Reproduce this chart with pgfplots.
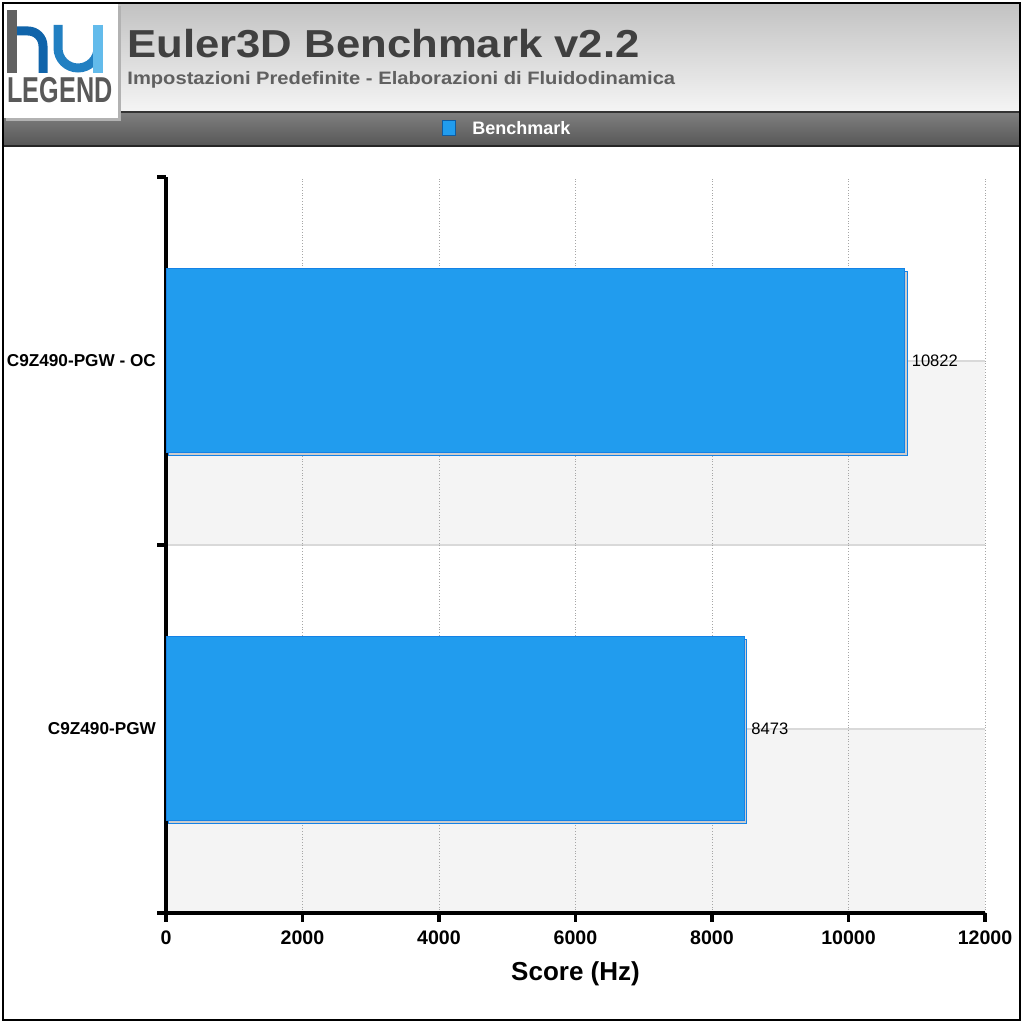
\documentclass[border=0pt]{standalone}
\usepackage{pgfplots}
\pgfplotsset{compat=1.18}
\usepackage{fontspec}
\setmainfont{Liberation Sans}
\definecolor{barblue}{RGB}{33,156,238}
\definecolor{baredge}{RGB}{20,130,230}
\definecolor{stripe}{RGB}{244,244,244}
\definecolor{titlegray}{RGB}{64,64,64}
\definecolor{subgray}{RGB}{96,96,96}
\definecolor{logoblue}{RGB}{16,100,170}
\definecolor{logolight}{RGB}{60,170,230}

\pgfplotstableread{
y  score
0  8473
1  10822
}\scores

\begin{document}
\begin{tikzpicture}
\path (0,0) rectangle (512pt,512pt);
\begin{scope}[x=0.5pt, y=-0.5pt, shift={(0,512pt)}]
  % header
  \shade[top color=black!24, bottom color=black!4] (3,3) rectangle (1020,112);
  \shade[top color=black!50, bottom color=black!66] (3,112) rectangle (1020,146);
  \draw[black!80, line width=1pt] (3,112) -- (1020,112);
  \draw[black!85, line width=1pt] (3,146) -- (1020,146);
  % logo
  \fill[black!30] (6,6) rectangle (121,121);
  \fill[white] (3,3) rectangle (118,118);
  \fill[black!62] (7,10) rectangle (17,73);
  \draw[logoblue, line width=4.5pt] (17,31) -- (28,31) arc[start angle=270, end angle=360, radius=15] -- (43,73);
  \draw[logoblue!60!logolight, line width=4.5pt] (58,25) -- (58,48) arc[start angle=180, end angle=0, radius=20];
  \draw[logolight!80, line width=5pt] (98,25) -- (98,73);
  \node[anchor=base west, inner sep=0pt, text=black!65, font=\bfseries\fontsize{18}{18}\selectfont]
    at (7,103) {\scalebox{0.7}[1]{LEGEND}};
  % titles
  \node[anchor=base west, inner sep=0pt, text=titlegray, font=\bfseries\fontsize{19.5}{22}\selectfont]
    at (127,58) {\scalebox{1.12}[1]{Euler3D Benchmark v2.2}};
  \node[anchor=base west, inner sep=0pt, text=subgray, font=\bfseries\fontsize{9}{11}\selectfont]
    at (127,85) {\scalebox{1.12}[1]{Impostazioni Predefinite - Elaborazioni di Fluidodinamica}};
  % legend
  \fill[barblue] (442,120) rectangle (455,135);
  \draw[baredge!70!black, line width=0.4pt] (442,120) rectangle (455,135);
  \node[anchor=west, inner sep=0pt, text=white, font=\bfseries\fontsize{9}{10}\selectfont]
    at (472,128.5) {Benchmark};
  % frame
  \draw[black, line width=1.2pt] (3,3) rectangle (1020,1020);
\end{scope}

\begin{axis}[
    at={(83pt,55.5pt)}, anchor=south west,
    scale only axis, width=409.5pt, height=368pt,
    set layers,
    xbar, bar width=92pt,
    xmin=0, xmax=12000, ymin=-0.5, ymax=1.5,
    axis lines=left, axis line style={-, line width=1.7pt, black},
    scaled x ticks=false,
    xtick={0,2000,...,12000},
    xmajorgrids, major grid style={black!35, densely dotted, line width=0.4pt},
    ytick={-0.5,0.5,1.5}, yticklabels={},
    extra y ticks={0,1}, extra y tick labels={C9Z490-PGW, C9Z490-PGW - OC},
    extra y tick style={major tick length=0pt, grid=none,
      tick label style={font=\bfseries\fontsize{8.6}{10}\selectfont, xshift=-1.5pt}},
    tick style={line width=1.6pt, black},
    tick align=outside, major tick length=4.5pt,
    x tick label style={font=\bfseries\fontsize{9.8}{12}\selectfont, yshift=-1pt},
    /pgf/number format/assume math mode=true,
    /pgf/number format/1000 sep={},
    xlabel={Score (Hz)},
    xlabel style={font=\bfseries\fontsize{13}{14}\selectfont, yshift=-1.5pt},
    nodes near coords={\pgfmathprintnumber{\pgfplotspointmeta}},
    every node near coord/.append style={font=\fontsize{8.3}{10}\selectfont, black, anchor=west, xshift=0pt},
    clip=false,
]
\begin{pgfonlayer}{axis background}
  \fill[stripe] (axis cs:0,-0.5) rectangle (axis cs:12000,0);
  \fill[stripe] (axis cs:0,0.5) rectangle (axis cs:12000,1);
  \draw[black!15, line width=0.6pt] (axis cs:0,0) -- (axis cs:12000,0);
  \draw[black!15, line width=0.6pt] (axis cs:0,0.5) -- (axis cs:12000,0.5);
  \draw[black!15, line width=0.6pt] (axis cs:0,1) -- (axis cs:12000,1);
\end{pgfonlayer}
\addplot[fill=barblue, draw=baredge, line width=0.5pt,
  preaction={fill=black!20, transform canvas={xshift=1.2pt, yshift=-1.2pt}}]
  table[x=score, y=y] {\scores};
\end{axis}
\end{tikzpicture}
\end{document}
